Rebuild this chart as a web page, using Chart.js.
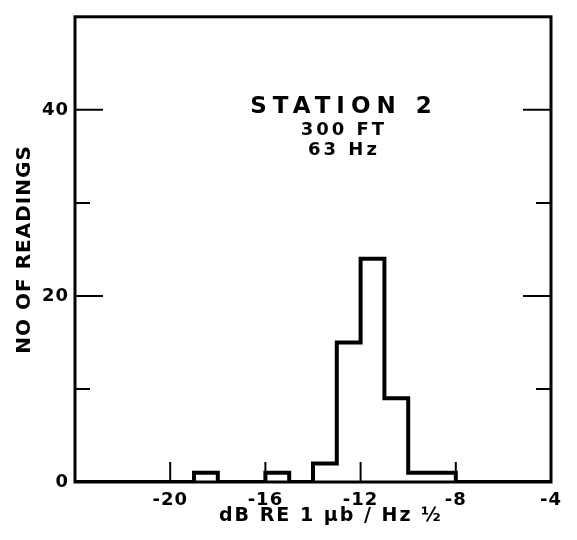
<!DOCTYPE html>
<html>
<head>
<meta charset="utf-8">
<script src="https://cdn.jsdelivr.net/npm/chart.js@4.4.1/dist/chart.umd.min.js"></script>
<style>
  html, body { margin: 0; padding: 0; background: #fff; }
  #wrap { width: 577px; height: 540px; }
</style>
</head>
<body>
<div id="wrap"><canvas id="chart" width="577" height="540"></canvas></div>
<script>
// histogram bins, 1 dB wide
const binEdges = [-24, -23, -22, -21, -20, -19, -18, -17, -16, -15, -14, -13, -12, -11, -10, -9, -8, -7, -6, -5, -4];
const counts = [0, 0, 0, 0, 0, 1, 0, 0, 1, 0, 2, 15, 24, 9, 1, 1, 0, 0, 0, 0];

const xTickLabels = [-20, -16, -12, -8, -4];
const yTickLabels = [0, 20, 40];
const noteLines = ["STATION 2", "300 FT", "63 Hz"];
const xTitle = "dB RE 1 \u03bcb / Hz \u00bd";

const FONT = "'DejaVu Sans', sans-serif";

// each point starts a bin; 'before' keeps the level until the next edge
const points = counts.map((c, i) => ({ x: binEdges[i], y: c }));
points.push({ x: binEdges[binEdges.length - 1], y: 0 });

const spacedText = {
  id: "spacedText",
  beforeDraw(chart) {
    chart.ctx.letterSpacing = "1px";
  }
};

const frameAndTicks = {
  id: "frameAndTicks",
  afterDatasetsDraw(chart) {
    const { ctx, chartArea: a, scales } = chart;
    const x = scales.x, y = scales.y;
    ctx.save();
    ctx.strokeStyle = "#000";
    ctx.lineCap = "butt";

    // inner tick marks
    ctx.lineWidth = 2;
    y.ticks.forEach((t) => {
      if (t.value <= y.min || t.value >= y.max) return;
      const py = y.getPixelForValue(t.value);
      const len = yTickLabels.includes(t.value) ? 28 : 15;
      ctx.beginPath();
      ctx.moveTo(a.left, py);
      ctx.lineTo(a.left + len, py);
      ctx.moveTo(a.right, py);
      ctx.lineTo(a.right - len, py);
      ctx.stroke();
    });
    x.ticks.forEach((t) => {
      if (t.value <= x.min || t.value >= x.max) return;
      const px = x.getPixelForValue(t.value);
      ctx.beginPath();
      ctx.moveTo(px, a.bottom);
      ctx.lineTo(px, a.bottom - 20);
      ctx.stroke();
    });

    // frame
    ctx.lineWidth = 3;
    ctx.strokeRect(a.left, a.top, a.width, a.height);

    // label block
    ctx.fillStyle = "#000";
    ctx.textAlign = "center";
    ctx.textBaseline = "middle";
    const cx = x.getPixelForValue(-12.7);
    const sizes = [23, 18, 18];
    const ys = [40.3, 37.8, 35.7];
    const spacing = ["6px", "3px", "3px"];
    noteLines.forEach((line, i) => {
      ctx.font = "bold " + sizes[i] + "px " + FONT;
      ctx.letterSpacing = spacing[i];
      ctx.fillText(line, cx, y.getPixelForValue(ys[i]));
    });

    // x axis title
    ctx.font = "bold 19px " + FONT;
    ctx.letterSpacing = "2px";
    ctx.fillText(xTitle, x.getPixelForValue(-13.25), a.bottom + 34);
    ctx.restore();
  }
};

new Chart(document.getElementById("chart"), {
  type: "line",
  data: {
    datasets: [
      {
        data: points,
        stepped: "before",
        borderColor: "#000",
        borderWidth: 4,
        pointRadius: 0,
        fill: false,
        borderJoinStyle: "miter"
      }
    ]
  },
  options: {
    responsive: false,
    animation: false,
    events: [],
    layout: { padding: { top: 10, right: 26, left: 0, bottom: 0 } },
    plugins: {
      legend: { display: false },
      tooltip: { enabled: false }
    },
    scales: {
      x: {
        type: "linear",
        min: -24,
        max: -4,
        grid: { display: false, drawTicks: false },
        border: { display: false },
        afterFit: (s) => { s.height = 58; },
        ticks: {
          stepSize: 4,
          padding: 8,
          color: "#000",
          font: { family: FONT, size: 18, weight: "bold" },
          maxRotation: 0,
          callback: (v) => (xTickLabels.includes(v) ? String(v) : "")
        }
      },
      y: {
        min: 0,
        max: 50,
        grid: { display: false, drawTicks: false },
        border: { display: false },
        afterFit: (s) => { s.width = 75; },
        ticks: {
          stepSize: 10,
          padding: 6,
          color: "#000",
          font: { family: FONT, size: 18, weight: "bold" },
          callback: (v) => (yTickLabels.includes(v) ? String(v) : "")
        },
        title: {
          display: true,
          text: "NO OF READINGS",
          color: "#000",
          font: { family: FONT, size: 20, weight: "bold" },
          padding: { top: 13, bottom: 0 }
        }
      }
    }
  },
  plugins: [spacedText, frameAndTicks]
});
</script>
</body>
</html>
